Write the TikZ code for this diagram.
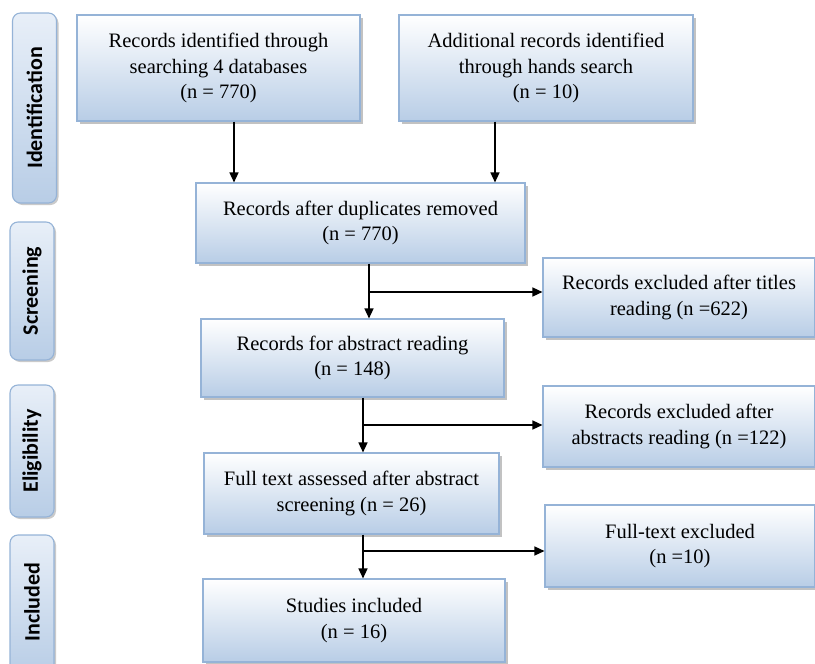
\documentclass[tikz,border=0pt]{standalone}
\usepackage{fontspec}
\setmainfont{Liberation Serif}
\newfontfamily\lblfont{Carlito}
\usetikzlibrary{arrows.meta,shadows}
\definecolor{boxblue}{RGB}{184,205,230}
\definecolor{boxedge}{RGB}{149,179,215}
\definecolor{lbltop}{RGB}{232,239,248}
\tikzset{
  flowbox/.style={rectangle, draw=boxedge, line width=1.1pt, top color=white, bottom color=boxblue,
    align=center, inner sep=2pt, font=\fontsize{20.5}{25.5}\selectfont,
    drop shadow={shadow xshift=2.5pt, shadow yshift=-2.5pt, fill=black!40, opacity=0.6}},
  phase/.style={rectangle, rounded corners=8pt, draw=boxedge, line width=1.1pt, top color=lbltop, bottom color=boxblue,
    minimum width=44pt, inner sep=0pt,
    drop shadow={shadow xshift=2pt, shadow yshift=-2pt, fill=black!35, opacity=0.6}},
  phasetext/.style={rotate=90, font=\lblfont\bfseries\fontsize{22}{24}\selectfont},
  arr/.style={line width=1.4pt, -{Triangle[length=10pt,width=9pt]}}
}
\begin{document}
\begin{tikzpicture}[x=1pt,y=-1pt]
\useasboundingbox (0,0) rectangle (815,664);
\begin{scope}
\clip (0,0) rectangle (815,664);
% phase labels
\node[phase, minimum height=190pt] (pid) at (34.5,108) {};
\node[phasetext] (tid) at (pid.center) {Identification};
\node[phase, minimum height=138pt] (psc) at (32,291) {};
\node[phasetext] (tsc) at (psc.center) {Screening};
\node[phase, minimum height=132pt] (pel) at (32,451) {};
\node[phasetext] (tel) at (pel.center) {Eligibility};
\node[phase, minimum height=140pt] (pin) at (32,605) {};
\node[phasetext] (tin) at (32,602) {Included};

% boxes
\node[flowbox, minimum width=283pt, minimum height=106pt] (b1) at (218.5,68) {Records identified through\\searching 4 databases\\(n = 770)};
\node[flowbox, minimum width=294pt, minimum height=106pt] (b2) at (546,68) {Additional records identified\\through hands search\\(n = 10)};
\node[flowbox, minimum width=329pt, minimum height=80pt] (b3) at (360.5,223) {Records after duplicates removed\\(n = 770)};
\node[flowbox, minimum width=272pt, minimum height=79pt] (b4) at (679,297.5) {Records excluded after titles\\reading (n =622)};
\node[flowbox, minimum width=303pt, minimum height=78pt] (b5) at (352.5,358) {Records for abstract reading\\(n = 148)};
\node[flowbox, minimum width=272pt, minimum height=81pt] (b6) at (679,426.5) {Records excluded after\\abstracts reading (n =122)};
\node[flowbox, minimum width=295pt, minimum height=81pt] (b7) at (351.5,493.5) {Full text assessed after abstract\\screening (n = 26)};
\node[flowbox, minimum width=270pt, minimum height=82pt] (b8) at (680,546) {Full-text excluded\\(n =10)};
\node[flowbox, minimum width=302pt, minimum height=83pt] (b9) at (354,620.5) {Studies included\\(n = 16)};

% connector columns and branch points
\coordinate (x1) at (234,0);
\coordinate (x2) at (495,0);
\coordinate (x3) at (369,0);
\coordinate (x5) at (363,0);
\coordinate (j3) at (369,292);
\coordinate (j5) at (363,425);
\coordinate (j7) at (363,551);

\draw[arr] (b1.south -| x1) -- (b3.north -| x1);
\draw[arr] (b2.south -| x2) -- (b3.north -| x2);
\draw[arr] (b3.south -| x3) -- (b5.north -| x3);
\draw[arr] (j3) -- (j3 -| b4.west);
\draw[arr] (b5.south -| x5) -- (b7.north -| x5);
\draw[arr] (j5) -- (j5 -| b6.west);
\draw[arr] (b7.south -| x5) -- (b9.north -| x5);
\draw[arr] (j7) -- (j7 -| b8.west);
\end{scope}
\end{tikzpicture}
\end{document}
